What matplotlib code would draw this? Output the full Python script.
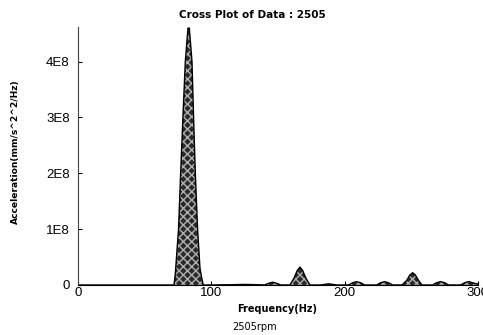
import matplotlib
import matplotlib.pyplot as plt
import numpy as np

matplotlib.use("Agg")

# spectrum: frequency (Hz) and amplitude (1E8 mm/s^2^2/Hz)
freq = [0, 20, 40, 60, 70, 72, 73, 75.4, 77, 78.7, 80.5, 82.5, 83.5, 85.5, 86.7,
        88, 89.7, 91.5, 93, 94, 100, 115, 125, 135,
        140, 143, 146, 149, 152,
        159, 162, 164.5, 166.5, 168.5, 171, 174,
        182, 186, 188, 190, 194,
        203, 206, 209, 212, 215,
        224, 227, 230, 233, 236,
        243, 246.5, 249, 251, 253, 255.5, 258,
        266, 269, 272, 275, 278,
        287, 290, 293, 296, 299, 300]
accel = [0.0, 0.0, 0.0, 0.0, 0.0, 0.0, 0.2, 1.0, 2.0, 3.0, 4.0, 4.6, 4.6, 4.0, 3.0,
         2.0, 1.0, 0.3, 0.1, 0.0, 0.0, 0.005, 0.01, 0.005,
         0.0, 0.03, 0.05, 0.03, 0.0,
         0.0, 0.12, 0.26, 0.32, 0.26, 0.12, 0.0,
         0.0, 0.015, 0.02, 0.015, 0.0,
         0.0, 0.04, 0.06, 0.04, 0.0,
         0.0, 0.04, 0.06, 0.04, 0.0,
         0.0, 0.08, 0.18, 0.22, 0.18, 0.08, 0.0,
         0.0, 0.04, 0.06, 0.04, 0.0,
         0.0, 0.04, 0.06, 0.04, 0.02, 0.02]

x_ticks = [0, 100, 200, 300]
y_ticks = [0, 1e8, 2e8, 3e8, 4e8]
y_tick_labels = ["0", "1E8", "2E8", "3E8", "4E8"]

f = np.array(freq)
a = np.array(accel) * 1e8

fig = plt.figure(figsize=(4.83, 3.35), dpi=100)
ax = fig.add_axes([0.1615, 0.1493, 0.828, 0.7701])

ax.fill_between(f, 0, a, facecolor="#2a2a2a", edgecolor="#b0b0b0",
                hatch="xxxx", linewidth=0)
ax.plot(f, a, color="black", linewidth=1.0)

ax.set_xlim(0, 300)
ax.set_ylim(0, 4.62e8)
ax.set_xticks(x_ticks)
ax.set_xticklabels([str(t) for t in x_ticks], family="Liberation Sans", fontsize=9.5)
ax.set_yticks(y_ticks)
ax.set_yticklabels(y_tick_labels, family="Liberation Sans", fontsize=9.5)
ax.tick_params(axis="y", direction="in", length=3, pad=6, width=0.8)
ax.tick_params(axis="x", direction="in", length=3, pad=1.5, width=0.8)

for side in ["top", "right"]:
    ax.spines[side].set_visible(False)
ax.spines["left"].set_linewidth(0.8)
ax.spines["left"].set_color("#444444")
ax.spines["bottom"].set_linewidth(0.8)

fig.text(0.522, 0.955, "Cross Plot of Data : 2505", ha="center", va="center",
         fontsize=7.5, fontweight="bold")
fig.text(0.574, 0.078, "Frequency(Hz)", ha="center", va="center",
         fontsize=7, fontweight="bold")
fig.text(0.528, 0.024, "2505rpm", ha="center", va="center", fontsize=7)
fig.text(0.031, 0.546, "Acceleration(mm/s^2^2/Hz)", ha="center", va="center",
         rotation=90, fontsize=6.6, fontweight="bold")

fig.savefig("out.png", dpi=100)
